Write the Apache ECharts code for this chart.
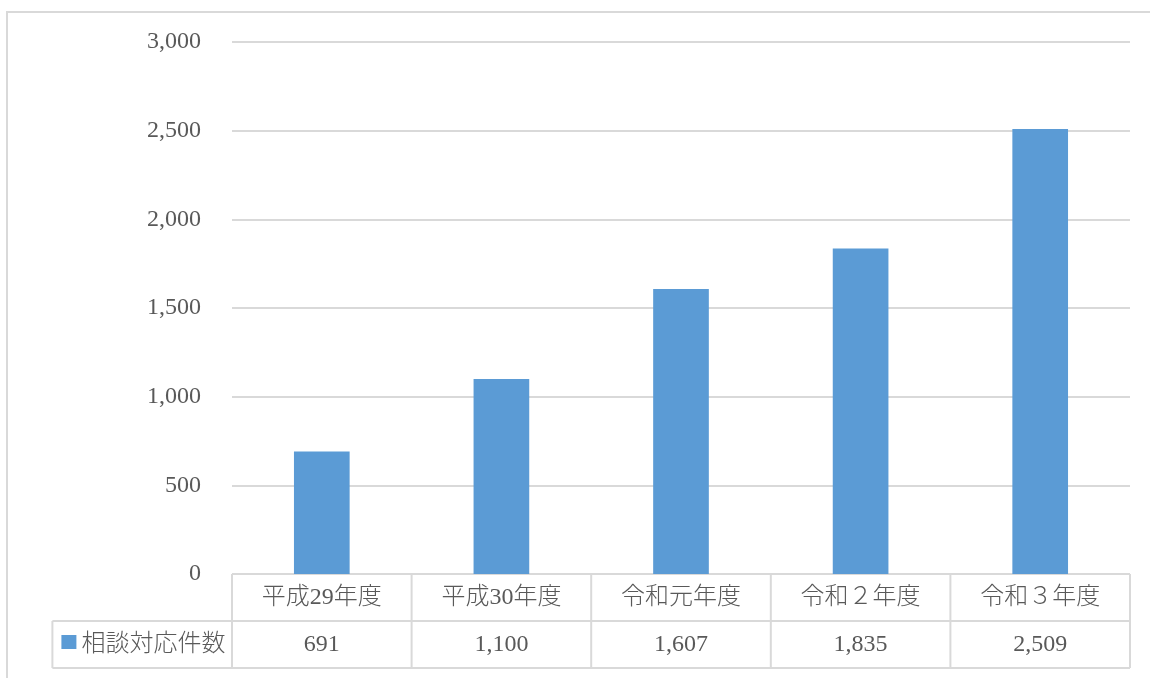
<!DOCTYPE html>
<html>
<head>
<meta charset="utf-8">
<script src="https://cdn.jsdelivr.net/npm/echarts@6/dist/echarts.min.js"></script>
<style>
  html, body { margin: 0; padding: 0; background: #fff; }
  #main { width: 1150px; height: 678px; }
</style>
</head>
<body>
<div id="main"></div>
<script>
// 年度ごとの相談対応件数
const categories = ['平成29年度', '平成30年度', '令和元年度', '令和２年度', '令和３年度']
const seriesName = '相談対応件数'
const counts = [691, 1100, 1607, 1835, 2509]
const yTicks = [0, 500, 1000, 1500, 2000, 2500, 3000]

const FONT = '"Liberation Serif", "Noto Sans CJK JP", serif'
const TEXT = '#595959'
const LINE = '#d9d9d9'
const BLUE = '#5b9bd5'

const fmt = v => v.toLocaleString('en-US')

const chart = echarts.init(document.getElementById('main'))

const option = {
    animation: false,
    grid: { left: 232, right: 20, top: 42, bottom: 104 },
    xAxis: {
        type: 'category',
        data: categories,
        axisLine: { show: false },
        axisTick: { show: false },
        axisLabel: { color: TEXT, fontFamily: FONT, fontSize: 24, fontWeight: 300, margin: 12 }
    },
    yAxis: {
        type: 'value',
        min: yTicks[0],
        max: yTicks[yTicks.length - 1],
        interval: 500,
        axisLine: { show: false },
        axisTick: { show: false },
        axisLabel: { color: TEXT, fontFamily: FONT, fontSize: 24, margin: 31, formatter: v => fmt(v) },
        splitLine: { lineStyle: { color: LINE, width: 2 } }
    },
    series: [{
        name: seriesName,
        type: 'bar',
        data: counts,
        barWidth: '31%',
        itemStyle: { color: BLUE }
    }]
}
chart.setOption(option)

// データテーブル部分
function buildTable() {
    const y0 = chart.convertToPixel({ yAxisIndex: 0 }, 0)
    const c0 = chart.convertToPixel({ xAxisIndex: 0 }, 0)
    const c1 = chart.convertToPixel({ xAxisIndex: 0 }, 1)
    const band = c1 - c0
    const left = c0 - band / 2
    const right = left + band * categories.length
    const rowH = 47
    const r1 = y0 + rowH
    const r2 = r1 + rowH
    const legLeft = left - band

    const els = []
    const line = (x1, y1, x2, y2) => els.push({
        type: 'line', silent: true,
        shape: { x1, y1, x2, y2 },
        style: { stroke: LINE, lineWidth: 2 }
    })

    // 外枠
    els.push({
        type: 'rect', silent: true,
        shape: { x: 7, y: 12, width: 1200, height: 700 },
        style: { fill: 'none', stroke: LINE, lineWidth: 2 }
    })

    line(left, y0, right, y0)
    line(legLeft, r1, right, r1)
    line(legLeft, r2, right, r2)
    line(legLeft, r1, legLeft, r2)
    for (let i = 0; i <= categories.length; i++) {
        const x = left + band * i
        line(x, y0, x, r2)
    }

    counts.forEach((v, i) => {
        els.push({
            type: 'text', silent: true,
            x: c0 + band * i, y: r1 + rowH / 2,
            style: { text: fmt(v), fill: TEXT, font: '24px ' + FONT, align: 'center', verticalAlign: 'middle' }
        })
    })

    els.push({
        type: 'rect', silent: true,
        shape: { x: legLeft + 9, y: r1 + 14, width: 15, height: 14 },
        style: { fill: BLUE }
    })
    els.push({
        type: 'text', silent: true,
        x: legLeft + 29, y: r1 + rowH / 2,
        style: { text: seriesName, fill: TEXT, font: '300 24px ' + FONT, align: 'left', verticalAlign: 'middle' }
    })

    chart.setOption({ graphic: { elements: els } })
}
buildTable()
</script>
</body>
</html>
